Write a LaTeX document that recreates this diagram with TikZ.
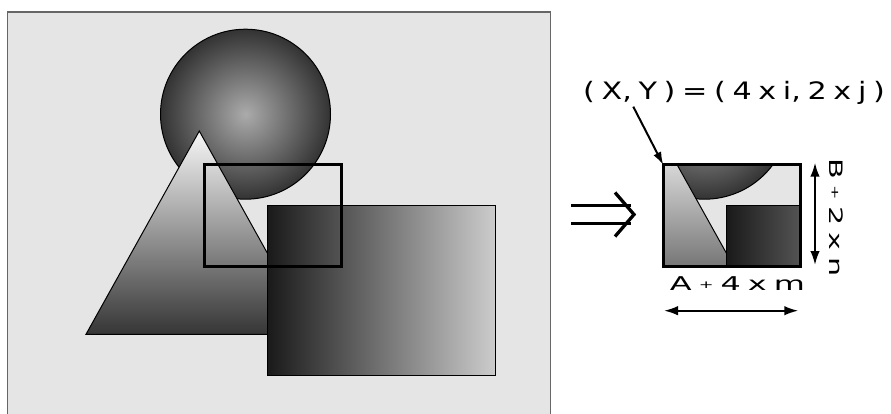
\documentclass[tikz,border=0pt]{standalone}
\usepackage{fontspec}
\setmainfont{DejaVu Sans}
\usetikzlibrary{arrows.meta}
\definecolor{panelbg}{gray}{0.9}
\definecolor{panelborder}{gray}{0.4}
\definecolor{circin}{gray}{0.67}
\definecolor{circout}{gray}{0.2}
\definecolor{tritop}{gray}{0.97}
\definecolor{tribot}{gray}{0.21}
\definecolor{recleft}{gray}{0.1}
\definecolor{recright}{gray}{0.8}
\newcommand\drawscene{%
  \shadedraw[inner color=circin, outer color=circout, draw=black, line width=1] (245.5,114.2) circle (85);
  \shadedraw[top color=tritop, bottom color=tribot, draw=black, line width=1] (199.3,131) -- (312.6,334.3) -- (86,334.3) -- cycle;
  \shadedraw[left color=recleft, right color=recright, draw=black, line width=1.3] (267.3,205.7) rectangle (495.3,375.3);
}
\newcommand\smallplus{\raisebox{2.5pt}{\fontsize{10.5}{11}\selectfont +}}
\newcommand\tightsp{\spaceskip=0.22em\relax}
\begin{document}
\begin{tikzpicture}[x=1pt,y=-1pt,
  frameline/.style={draw=black, line width=3, inner sep=0pt, outer sep=0pt},
  dimarrow/.style={line width=2, {Latex[length=14pt,width=9.5pt]}-{Latex[length=14pt,width=9.5pt]}},
  lbl/.style={inner sep=0pt, anchor=base}]
\useasboundingbox (0,0) rectangle (891,414);
\fill[white] (0,0) rectangle (891,414);
% left panel
\begin{scope}
  \clip (0,0) rectangle (891,414);
  \fill[panelbg] (7.3,12) rectangle (550.7,430);
  \drawscene
  \draw[panelborder, line width=1.5] (7.3,430) -- (7.3,12) -- (550.7,12) -- (550.7,430);
\end{scope}
\node[frameline, minimum width=136.7, minimum height=101.7] (sel) at (272.65,215.85) {};
% implication sign
\draw[line width=3.3] (571,205.7) -- (631,205.7);
\draw[line width=3.3] (571,223.3) -- (631,223.3);
\draw[line width=3.3, line join=miter] (615,192.5) -- (634,214.5) -- (615,236.5);
% zoomed copy
\begin{scope}
  \clip (663.3,165) rectangle (800,266.7);
  \fill[panelbg] (663.3,165) rectangle (800,266.7);
  \begin{scope}[xshift=459pt]
    \drawscene
  \end{scope}
\end{scope}
\node[frameline, minimum width=136.7, minimum height=101.7] (zoombox) at (731.65,215.85) {};
% labels
\node[lbl, font=\fontsize{24}{28}\selectfont] (xy) at (734,100) {\resizebox{301.7pt}{\height}{\tightsp ( X, Y ) = ( 4 x i, 2 x j )}};
\node[lbl, font=\fontsize{19}{23}\selectfont] (am) at (737.5,290.7) {\resizebox{135pt}{\height}{\tightsp A \smallplus{} 4 x m}};
\node[lbl, rotate=-90, font=\fontsize{18.5}{22}\selectfont] (bn) at (829,217.5) {\resizebox{118pt}{\height}{\tightsp B \smallplus{} 2 x n}};
% arrows
\coordinate (ptr) at (633.3,106.7);
\draw[line width=2, -{Latex[length=13pt,width=8.5pt]}] (ptr) -- (zoombox.north west);
\coordinate (hl) at (664,310.7);
\coordinate (hr) at (798.3,310.7);
\draw[dimarrow] (hl) -- (hr);
\coordinate (vt) at (815,162.7);
\coordinate (vb) at (815,265);
\draw[dimarrow] (vt) -- (vb);
\end{tikzpicture}
\end{document}
